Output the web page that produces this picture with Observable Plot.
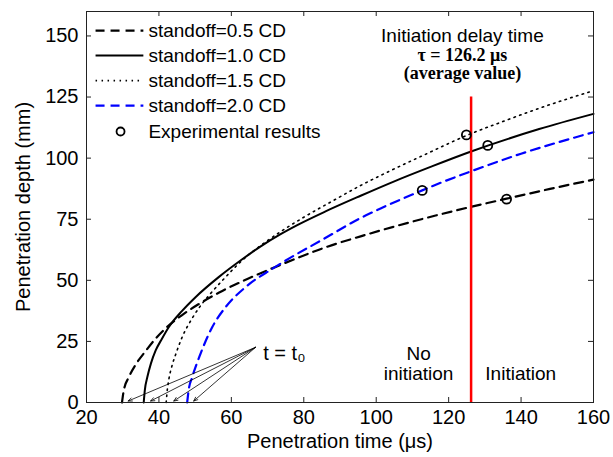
<!DOCTYPE html>
<html>
<head>
<meta charset="utf-8">
<script src="https://cdn.jsdelivr.net/npm/d3@7"></script>
<script src="https://cdn.jsdelivr.net/npm/@observablehq/plot@0.6"></script>
<style>
  html, body { margin: 0; padding: 0; background: #fff; }
  #chart svg { font-family: "Liberation Sans", Arial, sans-serif; }
</style>
</head>
<body>
<div id="chart"></div>
<script>
// ---- data ----
const xTicks = [20, 40, 60, 80, 100, 120, 140, 160];
const yTicks = [0, 25, 50, 75, 100, 125, 150];
const seriesLabels = ["standoff=0.5 CD", "standoff=1.0 CD", "standoff=1.5 CD", "standoff=2.0 CD"];
const expLabel = "Experimental results";

const t05 = [29.8, 30.3, 31.7, 33.8, 36.3, 39, 41.8, 46.4, 50.9, 56.5, 63, 70.3, 78.2, 86, 95.7, 105, 116.4, 126, 136, 148, 160];
const d05 = [0, 5, 10.4, 16, 21, 26, 30.3, 35.8, 40.2, 44.9, 49.6, 54.3, 59.1, 63.5, 68, 72, 76.5, 80, 83.4, 87.4, 91.2];

const t10 = [35.8, 36.1, 36.8, 37.8, 39.1, 40.8, 42.7, 46.4, 50.1, 56.5, 63, 68, 73.6, 78.2, 86, 95.7, 105, 115, 126, 131, 145, 160];
const d10 = [0, 5, 10.4, 16, 21.3, 26, 30.8, 37.5, 43.1, 51.3, 58.6, 63.8, 68.9, 72.6, 78.2, 84.6, 90.5, 96.4, 102.6, 105.2, 111.9, 118.1];

const t15 = [42.0, 42.3, 42.8, 43.6, 44.7, 46.4, 49.2, 51.5, 53.8, 58.4, 63, 68, 73.6, 80, 87.4, 95.7, 104, 114.1, 125, 135, 147, 160];
const d15 = [0, 5, 10, 15, 20, 26.7, 34.5, 39.6, 43.8, 51.3, 58.2, 64.1, 69.9, 75.8, 82, 88.8, 94.9, 101.9, 109.3, 115, 121.4, 127.6];

const t20 = [47.8, 48.2, 49.2, 51.5, 54.7, 58.4, 63.9, 71.3, 75, 85, 95.7, 101.2, 112.7, 117.8, 126, 140, 160];
const d20 = [0, 5, 10.4, 20, 30.8, 39, 47.2, 54.7, 58.1, 66.5, 75.5, 79.4, 86.8, 89.9, 94.5, 101.8, 110.6];

const expT = [112.7, 124.9, 130.8, 136];
const expD = [86.8, 109.5, 105.2, 83.2];

const tau = 126.2;
const t0Tips = [31.5, 37.7, 44.1, 49.6];

// ---- build ----
const W = 613, H = 457;
const mL = 86, mR = 20, mT = 11, mB = 55;
const fw = W - mL - mR, fh = H - mT - mB;
const tickLen = 5;

const styles = [
  {stroke: "black", strokeWidth: 2.2, dash: "9,6"},
  {stroke: "black", strokeWidth: 2, dash: null},
  {stroke: "black", strokeWidth: 1.6, dash: "1.5,4.5"},
  {stroke: "#0000ff", strokeWidth: 2.2, dash: "9,6"}
];
const ts = [t05, t10, t15, t20], ds = [d05, d10, d15, d20];
const curves = ts.map((tt, i) => tt.map((t, j) => ({t, d: ds[i][j]})));
const exp = expT.map((t, i) => ({t, d: expD[i]}));

// legend layout (data units)
const legRows = [152.2, 142, 131.7, 121.5, 110.9];
const legX1 = 22.5, legX2 = 35.7, legTextX = 37.1, legDotX = 29.4;

const font = 19;
const serif = "Liberation Serif, Times New Roman, serif";
const marks = [];

// inward ticks on all four sides
marks.push(Plot.ruleX(xTicks, {stroke: "#222", strokeWidth: 1, insetTop: fh - tickLen}));
marks.push(Plot.ruleX(xTicks, {stroke: "#222", strokeWidth: 1, insetBottom: fh - tickLen}));
marks.push(Plot.ruleY(yTicks, {stroke: "#222", strokeWidth: 1, insetRight: fw - tickLen}));
marks.push(Plot.ruleY(yTicks, {stroke: "#222", strokeWidth: 1, insetLeft: fw - tickLen}));

// curves
curves.forEach((c, i) => {
  const s = styles[i];
  marks.push(Plot.line(c, {x: "t", y: "d", stroke: s.stroke, strokeWidth: s.strokeWidth,
    strokeDasharray: s.dash, curve: "monotone-x"}));
});

// red initiation line
marks.push(Plot.ruleX([tau], {y1: 0, y2: 125, stroke: "#ff0000", strokeWidth: 2.5}));

// experimental points
marks.push(Plot.dot(exp, {x: "t", y: "d", r: 4.5, stroke: "black", strokeWidth: 1.8, fill: "none"}));

// t = t0 arrows
marks.push(Plot.arrow(t0Tips, {x1: 66.7, y1: 22.6, x2: d => d, y2: 0.6,
  stroke: "black", strokeWidth: 0.8, headLength: 8, headAngle: 45}));
marks.push(Plot.text(["t = t₀"], {x: 68.8, y: 20, text: d => d, textAnchor: "start",
  fontSize: 20, fill: "black"}));

// legend
seriesLabels.forEach((lab, i) => {
  const s = styles[i];
  marks.push(Plot.link([lab], {x1: legX1, x2: legX2, y1: legRows[i], y2: legRows[i],
    stroke: s.stroke, strokeWidth: s.strokeWidth, strokeDasharray: s.dash}));
  marks.push(Plot.text([lab], {x: legTextX, y: legRows[i], text: d => d, textAnchor: "start",
    fontSize: font, fill: "black"}));
});
marks.push(Plot.dot([expLabel], {x: legDotX, y: legRows[4], r: 4, stroke: "black", strokeWidth: 1.8, fill: "none"}));
marks.push(Plot.text([expLabel], {x: legTextX, y: legRows[4], text: d => d, textAnchor: "start",
  fontSize: font, fill: "black"}));

// annotation
marks.push(Plot.text(["Initiation delay time"], {x: 123.8, y: 150.2, text: d => d, fontSize: 19, fill: "black"}));
marks.push(Plot.text(["τ = 126.2 μs"], {x: 123.8, y: 142.1, text: d => d, fontSize: 18,
  fontFamily: serif, fontWeight: "bold", fill: "black"}));
marks.push(Plot.text(["(average value)"], {x: 123.8, y: 134.6, text: d => d, fontSize: 18,
  fontFamily: serif, fontWeight: "bold", fill: "black"}));
marks.push(Plot.text(["No"], {x: 111.7, y: 20, text: d => d, fontSize: font, fill: "black"}));
marks.push(Plot.text(["initiation"], {x: 111.7, y: 11.9, text: d => d, fontSize: font, fill: "black"}));
marks.push(Plot.text(["Initiation"], {x: 139.9, y: 11.9, text: d => d, fontSize: font, fill: "black"}));

// axes
marks.push(Plot.axisX(xTicks, {tickSize: 0, tickPadding: 7, fontSize: 20, label: null, fill: "black"}));
marks.push(Plot.axisY(yTicks, {tickSize: 0, tickPadding: 8, fontSize: 20, label: null, fill: "black"}));
marks.push(Plot.text(["Penetration time (μs)"], {frameAnchor: "bottom", lineAnchor: "middle", dy: 39,
  text: d => d, fontSize: 20, fill: "black"}));
marks.push(Plot.text(["Penetration depth (mm)"], {frameAnchor: "left", textAnchor: "middle", lineAnchor: "middle",
  dx: -63, rotate: -90, text: d => d, fontSize: 20, fill: "black"}));

marks.push(Plot.frame({stroke: "#222", strokeWidth: 1}));

const chart = Plot.plot({
  width: W, height: H,
  marginLeft: mL, marginRight: mR, marginTop: mT, marginBottom: mB,
  x: {domain: [20, 160], axis: null},
  y: {domain: [0, 160], axis: null},
  style: {background: "white", color: "black", fontFamily: "Liberation Sans, Arial, sans-serif"},
  marks
});
document.getElementById("chart").appendChild(chart);
</script>
</body>
</html>
